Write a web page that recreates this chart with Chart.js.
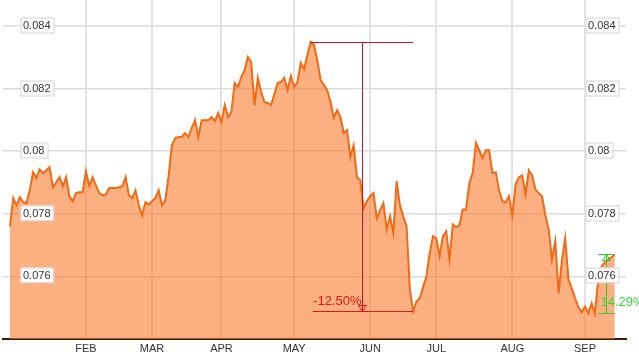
<!DOCTYPE html>
<html>
<head>
<meta charset="utf-8">
<script src="https://cdn.jsdelivr.net/npm/chart.js@4"></script>
<style>
  html, body { margin: 0; padding: 0; background: #fff; }
  #wrap { width: 639px; height: 356px; }
</style>
</head>
<body>
<div id="wrap"><canvas id="c" width="639" height="356"></canvas></div>
<script>
// ---- data (trading-day index -> value) ----
const values = [
  0.0776, 0.0785, 0.07827, 0.07853, 0.07837, 0.07834, 0.07875, 0.07933, 0.07914, 0.07942,
  0.0793, 0.07939, 0.07949, 0.07885, 0.07901, 0.07917, 0.07888, 0.07917, 0.07856, 0.0784,
  0.07866, 0.07869, 0.07869, 0.07936, 0.07888, 0.07917, 0.07891, 0.07866, 0.07859, 0.07862,
  0.07882, 0.07882, 0.07882, 0.07885, 0.07888, 0.07917, 0.07859, 0.0785, 0.07875, 0.07827,
  0.07795, 0.07837, 0.0783, 0.0784, 0.0785, 0.07875, 0.07827, 0.07843, 0.0792, 0.08019,
  0.08042, 0.08045, 0.08045, 0.08058, 0.08045, 0.08074, 0.08099, 0.08045, 0.08099, 0.08099,
  0.08099, 0.08109, 0.08096, 0.08122, 0.08093, 0.08147, 0.08109, 0.08125, 0.08218, 0.08205,
  0.08237, 0.08259, 0.08301, 0.08285, 0.08147, 0.08234, 0.08189, 0.08157, 0.08154, 0.08147,
  0.08182, 0.08218, 0.08221, 0.08234, 0.08195, 0.0824, 0.08205, 0.08221, 0.08282, 0.08262,
  0.08307, 0.08349, 0.08339, 0.08291, 0.08227, 0.08211, 0.08195, 0.08157, 0.08106, 0.08131,
  0.08109, 0.08058, 0.08067, 0.07981, 0.08019, 0.07917, 0.07907, 0.07818, 0.0784, 0.07856,
  0.07866, 0.07786, 0.07811, 0.07834, 0.0775, 0.07792, 0.07738, 0.07904, 0.07827, 0.07792,
  0.0776, 0.07558, 0.07488, 0.0752, 0.0753, 0.07565, 0.076, 0.07674, 0.07728, 0.07722,
  0.07664, 0.07728, 0.07744, 0.07654, 0.07766, 0.07757, 0.07763, 0.07814, 0.07814, 0.07898,
  0.0793, 0.08026, 0.08003, 0.07978, 0.08003, 0.08003, 0.0793, 0.07933, 0.07875, 0.0784,
  0.07837, 0.07856, 0.07795, 0.07894, 0.07917, 0.07923, 0.07862, 0.07939, 0.07923, 0.07878,
  0.07866, 0.07856, 0.07795, 0.0775, 0.07654, 0.07712, 0.07546, 0.07651, 0.07722, 0.0759,
  0.07562, 0.0753, 0.07501, 0.07485, 0.07504, 0.07482, 0.07514, 0.07482, 0.0759, 0.07632,
  0.07645, 0.07654, 0.07661, 0.0767
];
const monthLabels = ['FEB', 'MAR', 'APR', 'MAY', 'JUN', 'JUL', 'AUG', 'SEP'];
const monthStarts = [23, 43, 64, 86, 109, 129, 152, 174];   // trading-day index of month start
const yTicks = [0.076, 0.078, 0.080, 0.082, 0.084];

// change annotations (start index, end index, text)
const drawdown = { from: 91, to: 122, text: '-12.50%' };
const rebound  = { from: 177, to: 183, text: '14.29%' };

const points = values.map((v, i) => ({ x: i, y: v }));

const overlay = {
  id: 'overlay',
  afterDatasetsDraw(chart) {
    const ctx = chart.ctx;
    const xs = chart.scales.x, ys = chart.scales.y;
    const area = chart.chartArea;
    ctx.save();

    // --- drawdown (red) ---
    {
      const x1 = xs.getPixelForValue(drawdown.from);
      const x2 = xs.getPixelForValue(drawdown.to);
      const yTop = ys.getPixelForValue(values[drawdown.from]);
      const yBot = ys.getPixelForValue(values[drawdown.to]);
      const xm = Math.round((x1 + x2) / 2) + 0.5;
      ctx.lineWidth = 1;
      ctx.strokeStyle = '#c8102a';
      ctx.beginPath();
      ctx.moveTo(x1, Math.round(yTop) + 0.5); ctx.lineTo(x2, Math.round(yTop) + 0.5);
      ctx.moveTo(xm, yTop); ctx.lineTo(xm, yBot);
      ctx.stroke();
      ctx.strokeStyle = '#e01a1a';
      ctx.beginPath();
      ctx.moveTo(x1 + 2, Math.round(yBot) + 0.5); ctx.lineTo(x2, Math.round(yBot) + 0.5);
      ctx.stroke();
      ctx.beginPath();
      ctx.moveTo(xm - 4, yBot - 6); ctx.lineTo(xm + 4, yBot - 6); ctx.lineTo(xm, yBot); ctx.closePath();
      ctx.stroke();
      ctx.fillStyle = '#e01a1a';
      ctx.font = '13px Arial, "Liberation Sans", sans-serif';
      ctx.textAlign = 'right';
      ctx.textBaseline = 'middle';
      ctx.fillText(drawdown.text, xm - 1, yBot - 10);
    }

    // --- rebound (green) ---
    {
      const x1 = xs.getPixelForValue(rebound.from) + 3;
      const x2 = xs.getPixelForValue(rebound.to);
      const yBot = ys.getPixelForValue(values[rebound.from]);
      const yTop = ys.getPixelForValue(values[rebound.to]);
      const xm = Math.round((x1 + x2) / 2) + 0.5;
      ctx.lineWidth = 1;
      ctx.strokeStyle = '#2ecc2e';
      ctx.beginPath();
      ctx.moveTo(x1, Math.round(yTop) + 0.5); ctx.lineTo(x2, Math.round(yTop) + 0.5);
      ctx.moveTo(x1, Math.round(yBot) + 0.5); ctx.lineTo(x2, Math.round(yBot) + 0.5);
      ctx.moveTo(xm, yTop); ctx.lineTo(xm, yBot);
      ctx.stroke();
      ctx.beginPath();
      ctx.moveTo(xm - 4, yTop + 6); ctx.lineTo(xm + 4, yTop + 6); ctx.lineTo(xm, yTop); ctx.closePath();
      ctx.stroke();
      ctx.fillStyle = '#33dd33';
      ctx.font = '13px Arial, "Liberation Sans", sans-serif';
      ctx.textAlign = 'left';
      ctx.textBaseline = 'middle';
      ctx.fillText(rebound.text, xm - 6, yBot - 11);
    }

    // --- boxed y labels, both sides ---
    ctx.font = '11px Arial, "Liberation Sans", sans-serif';
    ctx.textBaseline = 'middle';
    ctx.textAlign = 'left';
    yTicks.forEach(v => {
      const label = String(+v.toFixed(3));
      const y = Math.round(ys.getPixelForValue(v)) - 1;
      const w = Math.ceil(ctx.measureText(label).width) + 5;
      [area.left + 17.5, area.right - 40.5].forEach(bx => {
        ctx.fillStyle = '#ffffff';
        ctx.fillRect(bx, y - 7.5, w, 15);
        ctx.strokeStyle = '#d4d4d4';
        ctx.lineWidth = 1;
        ctx.strokeRect(bx + 0.5, y - 7, w, 15);
        ctx.fillStyle = '#333333';
        ctx.fillText(label, bx + 2.5, y + 0.5);
      });
    });
    ctx.restore();
  }
};

new Chart(document.getElementById('c'), {
  type: 'line',
  data: {
    datasets: [{
      data: points,
      borderColor: '#f26a14',
      borderWidth: 2,
      backgroundColor: 'rgba(250,122,44,0.6)',
      fill: 'start',
      pointRadius: 0,
      tension: 0
    }]
  },
  options: {
    responsive: false,
    animation: false,
    devicePixelRatio: 1,
    layout: { padding: { left: 3, right: 13, top: 0, bottom: 0 } },
    plugins: { legend: { display: false }, tooltip: { enabled: false } },
    scales: {
      x: {
        type: 'linear',
        min: -2.1,
        max: 186.4,
        afterBuildTicks: s => { s.ticks = monthStarts.map(v => ({ value: v })); },
        afterFit: s => { s.height = 17; },
        ticks: {
          callback: v => monthLabels[monthStarts.indexOf(v)] || '',
          font: { family: 'Arial, "Liberation Sans", sans-serif', size: 11 },
          color: '#333',
          padding: 3,
          maxRotation: 0,
          autoSkip: false
        },
        grid: { color: '#e2e2e2', lineWidth: 2, drawTicks: false },
        border: { color: '#3a1c0c', width: 2 }
      },
      y: {
        min: 0.074,
        max: 0.08483,
        afterBuildTicks: s => { s.ticks = yTicks.map(v => ({ value: v })); },
        afterFit: s => { s.width = 0; },
        ticks: { display: false },
        grid: { color: '#dcdcdc', lineWidth: 1.5, drawTicks: false },
        border: { display: false }
      }
    }
  },
  plugins: [overlay]
});
</script>
</body>
</html>
